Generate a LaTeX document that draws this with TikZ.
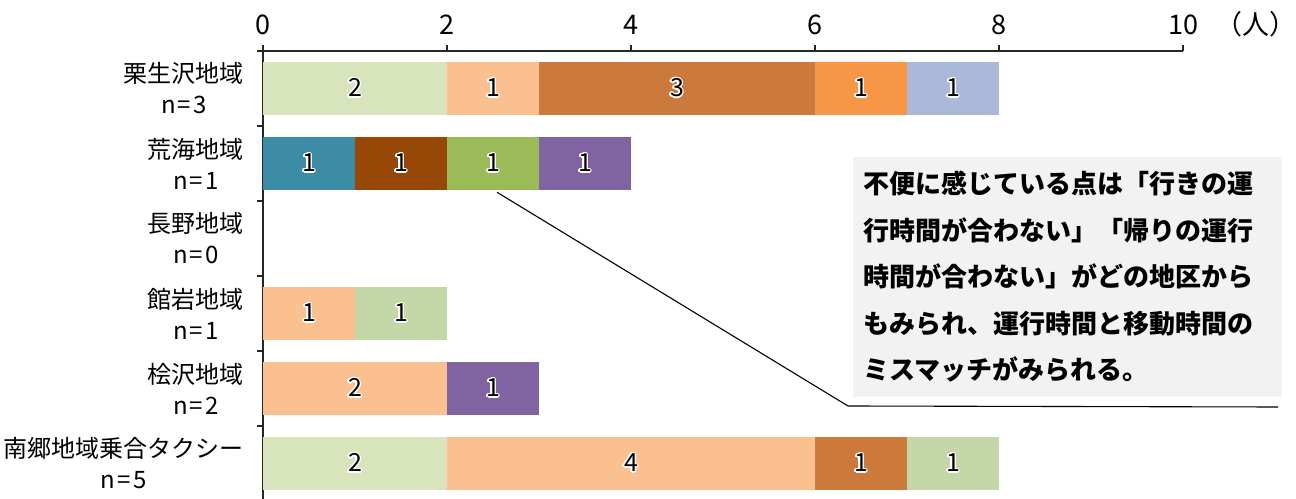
\documentclass[tikz,border=0pt]{standalone}
\usepackage{fontspec}
\setmainfont{Noto Sans CJK JP}
\newfontfamily\latsp[LetterSpace=9]{Noto Sans CJK JP}
\usepackage[copies]{contour}
\contourlength{1.3pt}
\usetikzlibrary{calc}
\definecolor{cLG}{HTML}{D8E4BC}
\definecolor{cLO}{HTML}{FAC090}
\definecolor{cBR}{HTML}{CB7A3B}
\definecolor{cOR}{HTML}{F79646}
\definecolor{cBL}{HTML}{AAB9D7}
\definecolor{cTE}{HTML}{3C8CA5}
\definecolor{cDB}{HTML}{974706}
\definecolor{cGR}{HTML}{9BBB59}
\definecolor{cPU}{HTML}{8064A2}
\definecolor{cLG2}{HTML}{C4D7A9}
\definecolor{cBox}{HTML}{F2F2F2}
\newcommand{\barseg}[6]{%
  \node[barseg, fill=#5, minimum width={(#3-#2)*92bp}] (#1) at ({263+92*(#2+#3)/2},#4) {\contour{white}{#6}};}
\begin{document}
\begin{tikzpicture}[x=1bp,y=-1bp,
  barseg/.style={rectangle, inner sep=0pt, outer sep=0pt, minimum height=53.5bp, draw=none, font=\fontsize{25bp}{28bp}\selectfont},
  ticklab/.style={inner sep=0pt, font=\fontsize{27bp}{30bp}\selectfont},
  catlab/.style={inner sep=0pt, anchor=east, align=center, font=\fontsize{24bp}{31bp}\selectfont},
  axisline/.style={line width=1.5bp, draw=black!85},
  callbox/.style={rectangle, fill=cBox, inner xsep=10bp, inner ysep=0pt, minimum width=429bp, minimum height=239bp, text width=409bp, align=left, font=\fontsize{26bp}{46.5bp}\selectfont\bfseries},
  leader/.style={line width=1.1bp, draw=black}
]
\useasboundingbox (0,0) rectangle (1296,499);
% axes
\coordinate (o) at (263,51);
\coordinate (xend) at (1183,51);
\coordinate (yend) at (263,499);
\draw[axisline] (257,51) -- (xend);
\draw[axisline] (o) -- (yend);
\foreach \i in {0,...,5} {
  \draw[axisline] ({263+184*\i},51) -- ({263+184*\i},45);
  \pgfmathtruncatemacro{\v}{2*\i}
  \node[ticklab] (t\i) at ({263+184*\i},25) {\v};
}
\foreach \j in {1,...,5} {
  \draw[axisline] (257,{51+75*\j}) -- (263,{51+75*\j});
}
\node[ticklab] (unit) at (1256,24) {（人）};
% category labels
\node[catlab] (l1) at (244,88.5) {栗生沢地域\\{\latsp n=3}};
\node[catlab] (l2) at (244,163.5) {荒海地域\\{\latsp n=1}};
\node[catlab] (l3) at (244,238.5) {長野地域\\{\latsp n=0}};
\node[catlab] (l4) at (244,313.5) {館岩地域\\{\latsp n=1}};
\node[catlab] (l5) at (244,388.5) {桧沢地域\\{\latsp n=2}};
\node[catlab] (l6) at (244,463.5) {南郷地域乗合タクシー\\{\latsp n=5}};
% bars
\barseg{r1a}{0}{2}{88.5}{cLG}{2}
\barseg{r1b}{2}{3}{88.5}{cLO}{1}
\barseg{r1c}{3}{6}{88.5}{cBR}{3}
\barseg{r1d}{6}{7}{88.5}{cOR}{1}
\barseg{r1e}{7}{8}{88.5}{cBL}{1}
\barseg{r2a}{0}{1}{163.5}{cTE}{1}
\barseg{r2b}{1}{2}{163.5}{cDB}{1}
\barseg{r2c}{2}{3}{163.5}{cGR}{1}
\barseg{r2d}{3}{4}{163.5}{cPU}{1}
\barseg{r4a}{0}{1}{313.5}{cLO}{1}
\barseg{r4b}{1}{2}{313.5}{cLG2}{1}
\barseg{r5a}{0}{2}{388.5}{cLO}{2}
\barseg{r5b}{2}{3}{388.5}{cPU}{1}
\barseg{r6a}{0}{2}{463.5}{cLG}{2}
\barseg{r6b}{2}{6}{463.5}{cLO}{4}
\barseg{r6c}{6}{7}{463.5}{cBR}{1}
\barseg{r6d}{7}{8}{463.5}{cLG2}{1}
% callout
\node[callbox] (call) at (1067.5,277) {不便に感じている点は「行きの運\\行時間が合わない」「帰りの運行\\時間が合わない」がどの地区から\\もみられ、運行時間と移動時間の\\ミスマッチがみられる。};
\coordinate (leadA) at ($(r2c.south)+(4,2)$);
\coordinate (leadB) at (848,406);
\coordinate (leadC) at (1278,407);
\draw[leader] (leadA) -- (leadB) -- (leadC);
\end{tikzpicture}
\end{document}
